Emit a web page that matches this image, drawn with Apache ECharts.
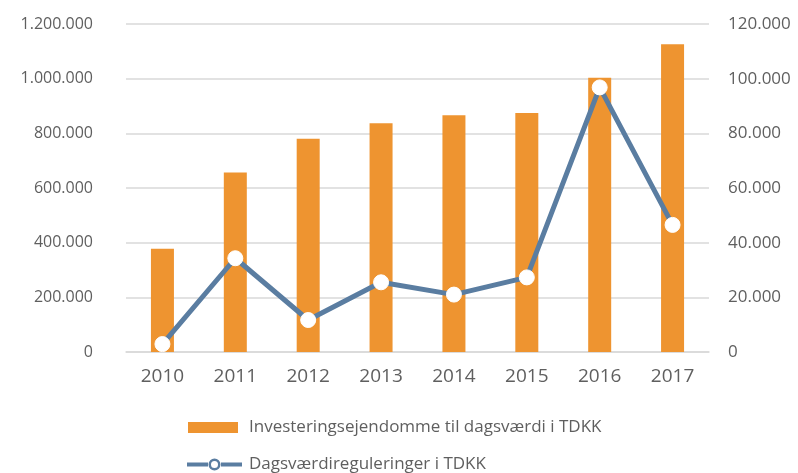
<!DOCTYPE html>
<html>
<head>
<meta charset="utf-8">
<script src="https://cdn.jsdelivr.net/npm/echarts@6/dist/echarts.min.js"></script>
<style>
  html, body { margin: 0; padding: 0; background: #fff; }
  #chart { width: 798px; height: 473px; }
</style>
</head>
<body>
<div id="chart"></div>
<script>
  // data
  var years = ['2010', '2011', '2012', '2013', '2014', '2015', '2016', '2017'];
  var investering = [378000, 657000, 780000, 837000, 866000, 874000, 1003000, 1126000];
  var regulering = [2900, 34300, 11700, 25500, 21000, 27300, 96800, 46500];
  var barName = 'Investeringsejendomme til dagsværdi i TDKK';
  var lineName = 'Dagsværdireguleringer i TDKK';

  function fmt(v) {
    return String(v).replace(/\B(?=(\d{3})+(?!\d))/g, '.');
  }

  // line + hollow ring icon for the legend
  var lineIcon = 'path://M0,5 L21,5 L21,9 L0,9 Z M34,5 L55,5 L55,9 L34,9 Z ' +
    'M21.5,7 A6,6 0 1,1 33.5,7 A6,6 0 1,1 21.5,7 Z ' +
    'M24,7 A3.5,3.5 0 1,0 31,7 A3.5,3.5 0 1,0 24,7 Z';

  var dom = document.getElementById('chart');
  var myChart = echarts.init(dom, null, { renderer: 'canvas' });
  var font = '"Open Sans", "Noto Sans", sans-serif';
  var option = {
    animation: false,
    textStyle: { fontFamily: font },
    grid: {
      top: 24,
      bottom: 121,
      left: 126,
      right: 89
    },
    legend: [{
      data: [{ name: barName, icon: 'rect' }],
      left: 183, top: 414,
      itemWidth: 50, itemHeight: 11,
      textStyle: { fontSize: 17, color: '#5f5f5f', padding: [0, 0, 0, 6], fontFamily: font }
    }, {
      data: [{ name: lineName, icon: lineIcon, itemStyle: { color: '#5a7da1', borderWidth: 0 } }],
      left: 182, top: 451,
      itemWidth: 55, itemHeight: 14,
      textStyle: { fontSize: 17, color: '#5f5f5f', padding: [0, 0, 0, 2], fontFamily: font }
    }],
    xAxis: {
      type: 'category',
      data: years,
      axisLine: { lineStyle: { color: '#d9d9d9', width: 1.5 } },
      axisTick: { show: false },
      axisLabel: { fontSize: 19, color: '#5f5f5f', margin: 15 }
    },
    yAxis: [{
      type: 'value',
      min: 0, max: 1200000, interval: 200000,
      axisLine: { show: false },
      axisTick: { show: false },
      splitLine: { lineStyle: { color: '#d9d9d9', width: 1.5 } },
      axisLabel: { fontSize: 16, color: '#5f5f5f', margin: 33, formatter: fmt }
    }, {
      type: 'value',
      min: 0, max: 120000, interval: 20000,
      axisLine: { show: false },
      axisTick: { show: false },
      splitLine: { show: false },
      axisLabel: { fontSize: 17, color: '#5f5f5f', margin: 19, formatter: fmt }
    }],
    series: [{
      name: barName,
      type: 'bar',
      data: investering,
      barWidth: 23,
      itemStyle: { color: '#ee9430' }
    }, {
      name: lineName,
      type: 'line',
      yAxisIndex: 1,
      data: regulering,
      symbol: 'circle',
      symbolSize: 15,
      lineStyle: { color: '#5a7da1', width: 5 },
      itemStyle: { color: '#ffffff', borderColor: '#ffffff', borderWidth: 1 }
    }]
  };
  myChart.setOption(option);
  window.addEventListener('resize', myChart.resize);
</script>
</body>
</html>
